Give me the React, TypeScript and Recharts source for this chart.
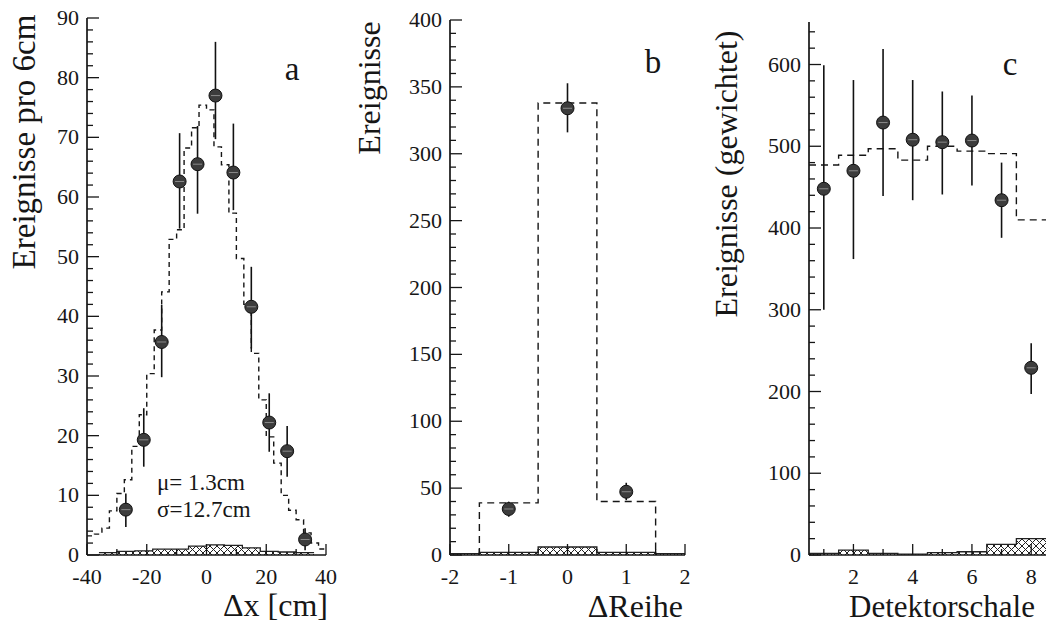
import React from "react";
import { ComposedChart, Line, Area, Scatter, ErrorBar, XAxis, YAxis } from "recharts";

const FONT = '"Liberation Serif", "Times New Roman", Times, "DejaVu Serif", serif';
const INK = "#161616";

// ---- panel a: Δx ----
const aMcEdges = [
  -40, -37.5, -35, -32.5, -30, -27.5, -25, -22.5, -20, -17.5, -15, -12.5, -10, -7.5, -5, -2.5,
  0, 2.5, 5, 7.5, 10, 12.5, 15, 17.5, 20, 22.5, 25, 27.5, 30, 32.5, 35, 37.5, 40,
];
const aMc = [
  3.2, 3.5, 4.5, 7.4, 10.3, 12.6, 18.2, 23.5, 30.4, 37.7, 44.1, 52.9, 54.5, 68.2, 71.6, 75.4,
  74.6, 68.4, 65.4, 57.3, 49.7, 42, 33.8, 26, 19.8, 15.4, 10, 7.5, 5.9, 3.7, 2, 1,
];
const aBgEdges = [-36, -30, -24, -18, -12, -6, 0, 6, 12, 18, 24, 30, 36];
const aBg = [0.4, 0.6, 0.7, 1.0, 1.0, 1.5, 1.7, 1.6, 1.2, 0.6, 0.5, 0.4];
const aX = [-27, -21, -15, -9, -3, 3, 9, 15, 21, 27, 33];
const aY = [7.6, 19.3, 35.7, 62.6, 65.5, 77, 64.1, 41.6, 22.2, 17.4, 2.6];
const aLo = [2.9, 4.5, 5.9, 7.9, 8.3, 7.3, 6.3, 7.0, 4.9, 4.3, 1.8];
const aHi = [2.7, 5.3, 6.2, 8.1, 6.4, 9.0, 8.2, 6.7, 4.9, 4.2, 1.9];
const aXTicks = [-40, -20, 0, 20, 40];
const aXMinor = [-30, -10, 10, 30];
const aYTicks = [0, 10, 20, 30, 40, 50, 60, 70, 80, 90];
const aYMinor = [2, 4, 6, 8, 12, 14, 16, 18, 22, 24, 26, 28, 32, 34, 36, 38, 42, 44, 46, 48, 52, 54, 56, 58, 62, 64, 66, 68, 72, 74, 76, 78, 82, 84, 86, 88];

// ---- panel b: ΔReihe ----
const bMcEdges = [-1.5, -1.5, -0.5, 0.5, 1.5];
const bMc = [0, 39, 338, 40, 0];
const bBgEdges = [-2, -1.5, -0.5, 0.5, 1.5, 2];
const bBg = [1, 2, 6, 2, 1];
const bX = [-1, 0, 1];
const bY = [34.4, 334, 47.3];
const bLo = [5.8, 18, 6.3];
const bHi = [5.5, 18.7, 6.7];
const bXTicks = [-2, -1, 0, 1, 2];
const bXMinor = [-1.5, -0.5, 0.5, 1.5];
const bYTicks = [0, 50, 100, 150, 200, 250, 300, 350, 400];
const bYMinor = [10, 20, 30, 40, 60, 70, 80, 90, 110, 120, 130, 140, 160, 170, 180, 190, 210, 220, 230, 240, 260, 270, 280, 290, 310, 320, 330, 340, 360, 370, 380, 390];

// ---- panel c: Detektorschale ----
const cMcEdges = [0.5, 1.5, 2.5, 3.5, 4.5, 5.5, 6.5, 7.5, 8.5];
const cMc = [477, 489, 497, 483, 500, 494, 491, 410];
const cBg = [2, 6, 2, 1, 3, 4, 13, 20];
const cX = [1, 2, 3, 4, 5, 6, 7, 8];
const cY = [448, 470, 529, 508, 505, 507, 434, 229];
const cLo = [148, 108, 90, 74, 64, 55, 46, 32];
const cHi = [151, 111, 90, 73, 62, 55, 46, 30];
const cXTicks = [2, 4, 6, 8];
const cXMinor = [1, 3, 5, 7];
const cYTicks = [0, 100, 200, 300, 400, 500, 600];
const cYMinor = [20, 40, 60, 80, 120, 140, 160, 180, 220, 240, 260, 280, 320, 340, 360, 380, 420, 440, 460, 480, 520, 540, 560, 580, 620, 640];

// step histogram: edges[i] carries values[i], last edge repeats the last value
const steps = (edges: number[], values: number[]) =>
  edges.map((x, i) => ({ x, v: values[Math.min(i, values.length - 1)] }));

const points = (xs: number[], ys: number[], lo: number[], hi: number[]) =>
  xs.map((x, i) => ({ x, y: ys[i], err: [lo[i], hi[i]] }));

const serif = (size: number) => ({ fontFamily: FONT, fontSize: size, fill: INK });

const xTick = (majors: number[]) => (props: any) => {
  const { x, y, payload } = props;
  const major = majors.includes(payload.value);
  return (
    <g>
      <line x1={x} x2={x} y1={y} y2={y - (major ? 11 : 6)} stroke={INK} strokeWidth={1.3} />
      {major && (
        <text x={x} y={y + 29} textAnchor="middle" style={serif(22)}>
          {payload.value}
        </text>
      )}
    </g>
  );
};

const yTick = (majors: number[]) => (props: any) => {
  const { x, y, payload } = props;
  const major = majors.includes(payload.value);
  return (
    <g>
      <line x1={x} x2={x + (major ? 12 : 6)} y1={y} y2={y} stroke={INK} strokeWidth={1.3} />
      {major && (
        <text x={x - 8} y={y + 7} textAnchor="end" style={serif(22)}>
          {payload.value}
        </text>
      )}
    </g>
  );
};

const Dot = (props: any) => (
  <g>
    <circle cx={props.cx} cy={props.cy} r={6.5} fill="#3c3c3c" stroke="#111" strokeWidth={1} />
    <line x1={props.cx - 4.5} x2={props.cx + 4.5} y1={props.cy} y2={props.cy} stroke="#8a8a8a" strokeWidth={1} />
  </g>
);

interface PanelProps {
  id: string;
  left: number;
  width: number;
  top: number;
  axisWidth: number;
  right: number;
  xDomain: [number, number];
  yDomain: [number, number];
  xTicks: number[];
  xMinor: number[];
  yTicks: number[];
  yMinor: number[];
  mc: { x: number; v: number }[];
  bg: { x: number; v: number }[];
  pts: { x: number; y: number; err: number[] }[];
  dash: string;
  children?: React.ReactNode;
}

function Panel(p: PanelProps) {
  const frame = { stroke: INK, strokeWidth: 1.7 };
  return (
    <div style={{ position: "absolute", left: p.left, top: 0 }}>
      <ComposedChart
        width={p.width}
        height={623}
        margin={{ top: p.top, right: p.right, bottom: 0, left: 0 }}
        style={{ fontFamily: FONT }}
      >
        <defs>
          <pattern id={`hatch-${p.id}`} patternUnits="userSpaceOnUse" width={7} height={7}>
            <path d="M0,0 L7,7 M7,0 L0,7" stroke="#222" strokeWidth={1} />
          </pattern>
        </defs>
        <XAxis
          dataKey="x"
          type="number"
          domain={p.xDomain}
          allowDataOverflow
          ticks={[...p.xTicks, ...p.xMinor]}
          interval={0}
          height={68}
          tickSize={0}
          tickMargin={0}
          tickLine={false}
          tick={xTick(p.xTicks)}
          axisLine={frame}
        />
        <XAxis xAxisId="top" orientation="top" type="number" domain={p.xDomain} allowDataOverflow height={0} tick={false} tickLine={false} axisLine={frame} />
        <YAxis
          type="number"
          domain={p.yDomain}
          allowDataOverflow
          ticks={[...p.yTicks, ...p.yMinor]}
          interval={0}
          width={p.axisWidth}
          tickSize={0}
          tickMargin={0}
          tickLine={false}
          tick={yTick(p.yTicks)}
          axisLine={frame}
        />
        <YAxis yAxisId="right" orientation="right" type="number" domain={p.yDomain} allowDataOverflow width={0} tick={false} tickLine={false} axisLine={frame} />
        <Area
          data={p.bg}
          dataKey="v"
          type="stepAfter"
          fill={`url(#hatch-${p.id})`}
          fillOpacity={1}
          stroke="#222"
          strokeWidth={1.3}
          isAnimationActive={false}
        />
        <Line
          data={p.mc}
          dataKey="v"
          type="stepAfter"
          stroke={INK}
          strokeWidth={1.4}
          strokeDasharray={p.dash}
          dot={false}
          isAnimationActive={false}
        />
        <Scatter data={p.pts} dataKey="y" shape={Dot} isAnimationActive={false}>
          <ErrorBar dataKey="err" direction="y" width={0} stroke="#111" strokeWidth={1.6} />
        </Scatter>
        {p.children}
      </ComposedChart>
    </div>
  );
}

export default function App() {
  return (
    <div style={{ position: "absolute", left: 0, top: 0, width: 1047, height: 623, background: "#fff", overflow: "hidden", fontFamily: FONT }}>
      <Panel
        id="a"
        left={0}
        width={340}
        top={18}
        axisWidth={87}
        right={14}
        xDomain={[-40, 40]}
        yDomain={[0, 90]}
        xTicks={aXTicks}
        xMinor={aXMinor}
        yTicks={aYTicks}
        yMinor={aYMinor}
        mc={steps(aMcEdges, aMc)}
        bg={steps(aBgEdges, aBg)}
        pts={points(aX, aY, aLo, aHi)}
        dash="5 4"
      >
        <text transform="translate(35,142) rotate(-90)" textAnchor="middle" style={serif(33)}>
          Ereignisse pro 6cm
        </text>
        <text x={328} y={616} textAnchor="end" style={serif(32)}>Δx [cm]</text>
        <text x={292} y={80} textAnchor="middle" style={serif(33)}>a</text>
        <text x={157} y={490} style={serif(23)}>μ= 1.3cm</text>
        <text x={157} y={517} style={serif(23)}>σ=12.7cm</text>
      </Panel>
      <Panel
        id="b"
        left={340}
        width={360}
        top={20}
        axisWidth={110}
        right={15}
        xDomain={[-2, 2]}
        yDomain={[0, 400]}
        xTicks={bXTicks}
        xMinor={bXMinor}
        yTicks={bYTicks}
        yMinor={bYMinor}
        mc={bMcEdges.map((x, i) => ({ x, v: bMc[i] }))}
        bg={steps(bBgEdges, bBg)}
        pts={points(bX, bY, bLo, bHi)}
        dash="7 5"
      >
        <text transform="translate(40,88) rotate(-90)" textAnchor="middle" style={serif(32)}>
          Ereignisse
        </text>
        <text x={343} y={617} textAnchor="end" style={serif(32)}>ΔReihe</text>
        <text x={313} y={73} textAnchor="middle" style={serif(33)}>b</text>
      </Panel>
      <Panel
        id="c"
        left={700}
        width={347}
        top={22}
        axisWidth={109}
        right={1}
        xDomain={[0.5, 8.5]}
        yDomain={[0, 652]}
        xTicks={cXTicks}
        xMinor={cXMinor}
        yTicks={cYTicks}
        yMinor={cYMinor}
        mc={steps(cMcEdges, cMc)}
        bg={steps(cMcEdges, cBg)}
        pts={points(cX, cY, cLo, cHi)}
        dash="7 5"
      >
        <text transform="translate(37,174) rotate(-90)" textAnchor="middle" style={serif(32)}>
          Ereignisse (gewichtet)
        </text>
        <text x={335} y={617} textAnchor="end" style={serif(31)}>Detektorschale</text>
        <text x={310} y={75} textAnchor="middle" style={serif(33)}>c</text>
      </Panel>
    </div>
  );
}
